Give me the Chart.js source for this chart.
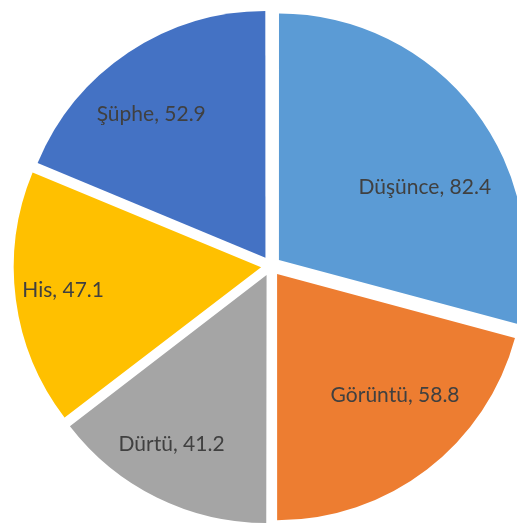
<!DOCTYPE html>
<html>
<head>
<meta charset="utf-8">
<script src="https://cdn.jsdelivr.net/npm/chart.js@4"></script>
<style>
  html, body { margin: 0; padding: 0; background: #fff; }
  #wrap { width: 517px; height: 525px; }
</style>
</head>
<body>
<div id="wrap"><canvas id="myChart" width="517" height="525"></canvas></div>
<script>
const categories = ['Düşünce', 'Görüntü', 'Dürtü', 'His', 'Şüphe'];
const values = [82.4, 58.8, 41.2, 47.1, 52.9];
const colors = ['#5B9BD5', '#ED7D31', '#A5A5A5', '#FFC000', '#4472C4'];

// label placement tweaks: [angle shift in degrees, distance as share of radius]
const labelPlace = [[10.9, 0.663], [-6.8, 0.687], [3, 0.79], [0.8, 0.81], [-4.9, 0.744]];

const sliceLabels = {
  id: 'sliceLabels',
  afterDatasetsDraw(chart) {
    const ctx = chart.ctx;
    const meta = chart.getDatasetMeta(0);
    ctx.save();
    ctx.font = '21px Lato';
    ctx.fillStyle = '#404040';
    ctx.textAlign = 'center';
    ctx.textBaseline = 'middle';
    meta.data.forEach(function (arc, i) {
      const p = arc.getProps(['x', 'y', 'startAngle', 'endAngle', 'outerRadius'], true);
      const mid = (p.startAngle + p.endAngle) / 2;
      const shift = 10;
      const cx = p.x + Math.cos(mid) * shift;
      const cy = p.y + Math.sin(mid) * shift;
      const a = mid + labelPlace[i][0] * Math.PI / 180;
      const d = p.outerRadius * labelPlace[i][1];
      ctx.fillText(categories[i] + ', ' + values[i], cx + Math.cos(a) * d, cy + Math.sin(a) * d);
    });
    ctx.restore();
  }
};

const ctx = document.getElementById('myChart').getContext('2d');

const chart = new Chart(ctx, {
  type: 'pie',
  data: {
    labels: categories,
    datasets: [{
      data: values,
      backgroundColor: colors,
      borderWidth: 0,
      offset: 40,
      hoverOffset: 40,
      clip: false,
    }]
  },
  options: {
    responsive: false,
    animation: false,
    radius: 246,
    layout: { padding: { left: 25, right: 0, top: 7, bottom: 0 } },
    plugins: {
      legend: { display: false },
      tooltip: { enabled: false },
    },
    events: [],
  },
  plugins: [sliceLabels],
});
</script>
</body>
</html>
